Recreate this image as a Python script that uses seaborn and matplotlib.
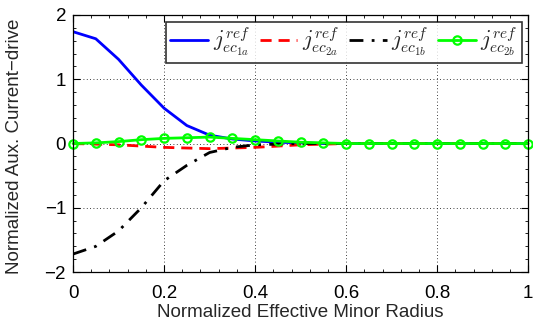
import matplotlib
matplotlib.use("Agg")
import matplotlib.pyplot as plt
import numpy as np
import pandas as pd
import seaborn as sns
from matplotlib.ticker import AutoMinorLocator

# ---- data ----------------------------------------------------------------
radius = [0.0, 0.05, 0.1, 0.15, 0.2, 0.25, 0.3, 0.35, 0.4, 0.45, 0.5,
          0.55, 0.6, 0.65, 0.7, 0.75, 0.8, 0.85, 0.9, 0.95, 1.0]
j_ec1a = [1.74, 1.63, 1.31, 0.91, 0.55, 0.28, 0.13, 0.07, 0.04, 0.02, 0.01,
          0.0, 0.0, 0.0, 0.0, 0.0, 0.0, 0.0, 0.0, 0.0, 0.0]
j_ec2a = [0.0, -0.01, -0.02, -0.04, -0.06, -0.07, -0.08, -0.07, -0.06, -0.04, -0.02,
          -0.01, 0.0, 0.0, 0.0, 0.0, 0.0, 0.0, 0.0, 0.0, 0.0]
j_ec1b = [-1.72, -1.6, -1.36, -1.0, -0.58, -0.34, -0.14, -0.06, -0.02, -0.01, 0.0,
          0.0, 0.0, 0.0, 0.0, 0.0, 0.0, 0.0, 0.0, 0.0, 0.0]
j_ec2b = [0.0, 0.01, 0.03, 0.06, 0.08, 0.09, 0.10, 0.08, 0.06, 0.04, 0.02,
          0.01, 0.0, 0.0, 0.0, 0.0, 0.0, 0.0, 0.0, 0.0, 0.0]

labels = [r"$j_{ec_{1a}}^{ref}$", r"$j_{ec_{2a}}^{ref}$",
          r"$j_{ec_{1b}}^{ref}$", r"$j_{ec_{2b}}^{ref}$"]

sns.set_style("ticks")
plt.rcParams["font.family"] = ["Liberation Sans", "DejaVu Sans"]
plt.rcParams["mathtext.fontset"] = "cm"

fig = plt.figure(figsize=(5.33, 3.33), dpi=100)
ax = fig.add_axes([0.137, 0.183, 0.854, 0.772])

sns.lineplot(x=radius, y=j_ec1a, ax=ax, color="#0000ff", lw=2, label=labels[0])
sns.lineplot(x=radius, y=j_ec2a, ax=ax, color="#ff0000", lw=2, label=labels[1],
             linestyle=(0, (4, 2.5)))
sns.lineplot(x=radius, y=j_ec1b, ax=ax, color="black", lw=2, label=labels[2],
             linestyle=(0, (5, 3, 1, 3)))
sns.lineplot(x=radius, y=j_ec2b, ax=ax, color="#00ff00", lw=2, label=labels[3],
             marker="o", markersize=6, markerfacecolor="none",
             markeredgecolor="#00ff00", markeredgewidth=1.6, clip_on=False)

ax.set_xlim(0, 1)
ax.set_ylim(-2, 2)
ax.set_xticks([0, 0.2, 0.4, 0.6, 0.8, 1])
ax.set_xticklabels(["0", "0.2", "0.4", "0.6", "0.8", "1"])
ax.set_yticks([-2, -1, 0, 1, 2])
ax.set_yticklabels(["\u22122", "\u22121", "0", "1", "2"])
ax.xaxis.set_minor_locator(AutoMinorLocator(5))
ax.yaxis.set_minor_locator(AutoMinorLocator(5))
ax.tick_params(which="both", direction="in", top=True, right=True,
               labelsize=13.5, colors="black")
ax.tick_params(which="major", length=5, width=0.8)
ax.tick_params(which="minor", length=2.5, width=0.6)
ax.tick_params(axis="x", which="major", pad=9)
ax.tick_params(axis="y", which="major", pad=5)
ax.grid(True, which="major", linestyle=(0, (1, 3)), color="black", lw=0.6)
for s in ax.spines.values():
    s.set_linewidth(0.9)
    s.set_color("black")

ax.set_xlabel("Normalized Effective Minor Radius", fontsize=13.5, labelpad=2)
ax.set_ylabel("")
fig.text(0.012, 0.178, "Normalized Aux. Current\u2212drive",
         rotation=90, fontsize=13.5, ha="left", va="bottom")

leg = ax.legend(loc="upper right", ncol=4, fontsize=16, frameon=True,
                fancybox=False, handlelength=1.7, handletextpad=0.2,
                columnspacing=0.45, borderpad=0.2, borderaxespad=0.3)
leg.get_frame().set_edgecolor("black")
leg.get_frame().set_linewidth(1.2)

fig.savefig("out.png", dpi=100)
